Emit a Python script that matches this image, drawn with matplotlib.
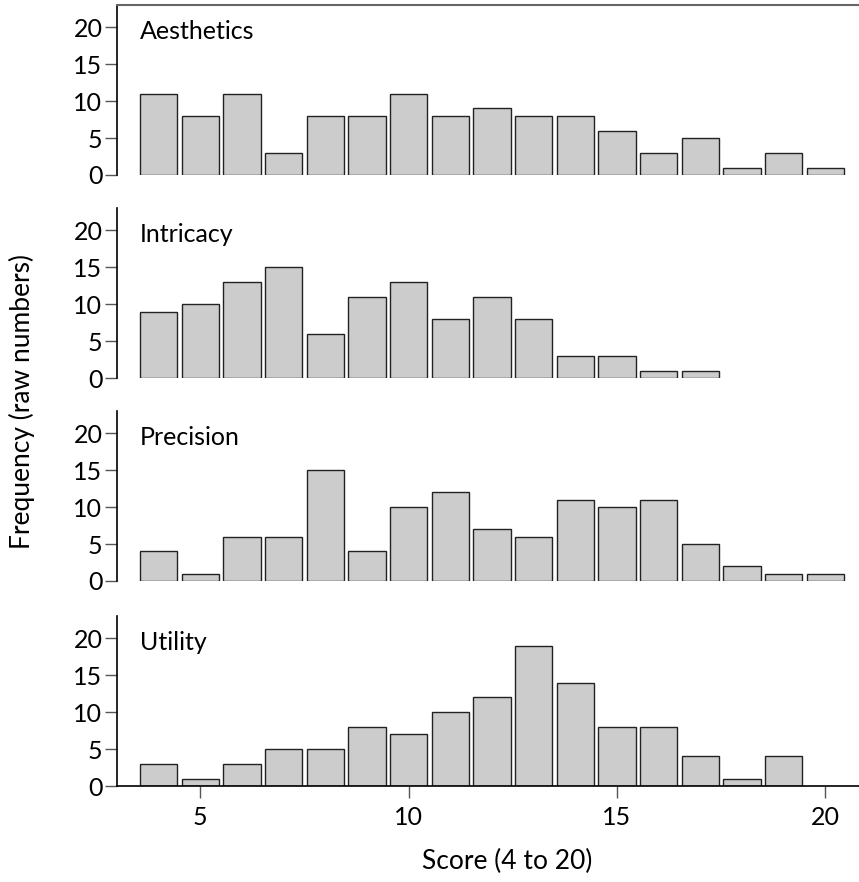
import matplotlib
matplotlib.use("Agg")
import matplotlib.pyplot as plt
import numpy as np

plt.rcParams['font.family'] = ['Lato', 'DejaVu Sans']

scores = list(range(4, 21))
panels = ["Aesthetics", "Intricacy", "Precision", "Utility"]
aesthetics = [11, 8, 11, 3, 8, 8, 11, 8, 9, 8, 8, 6, 3, 5, 1, 3, 1]
intricacy = [9, 10, 13, 15, 6, 11, 13, 8, 11, 8, 3, 3, 1, 1, 0, 0, 0]
precision = [4, 1, 6, 6, 15, 4, 10, 12, 7, 6, 11, 10, 11, 5, 2, 1, 1]
utility = [3, 1, 3, 5, 5, 8, 7, 10, 12, 19, 14, 8, 8, 4, 1, 4, 0]
series = [aesthetics, intricacy, precision, utility]
yticks = [0, 5, 10, 15, 20]
xticks = [5, 10, 15, 20]

fig = plt.figure(figsize=(8.59, 8.82), dpi=100)
bottoms = [0.8016, 0.5714, 0.3413, 0.1088]
height = 0.1927
left = 117 / 859
width = (897 - 117) / 859

for i, (name, vals, b) in enumerate(zip(panels, series, bottoms)):
    ax = fig.add_axes([left, b, width, height])
    x = np.array(scores)
    v = np.array(vals)
    m = v > 0
    ax.bar(x[m], v[m], width=0.9, color="#cccccc", edgecolor="#222222", linewidth=1.0)
    ax.set_xlim(3.0, 21.72)
    ax.set_ylim(0, 23)
    ax.set_yticks(yticks)
    ax.tick_params(axis='y', length=8.5, width=1, color="#555555", labelsize=18, pad=2)
    ax.spines['right'].set_visible(False)
    ax.spines['left'].set_linewidth(1.2)
    if i == 0:
        ax.spines['top'].set_visible(True)
        ax.spines['top'].set_color("#666666")
        ax.spines['top'].set_linewidth(1.5)
    else:
        ax.spines['top'].set_visible(False)
    if i == 3:
        ax.set_xticks(xticks)
        ax.tick_params(axis='x', length=8.5, width=1, color="#555555", labelsize=18, pad=6)
        ax.spines['bottom'].set_linewidth(1.2)
        ax.set_xlabel("Score (4 to 20)", fontsize=19, labelpad=14)
    else:
        ax.set_xticks([])
        ax.spines['bottom'].set_visible(False)
    ax.text(0.029, 0.91, name, transform=ax.transAxes, fontsize=18, va='top', ha='left')

fig.text(0.026, 0.545, "Frequency (raw numbers)", rotation=90, fontsize=19, va='center', ha='center')
fig.savefig("out.png", dpi=100)
